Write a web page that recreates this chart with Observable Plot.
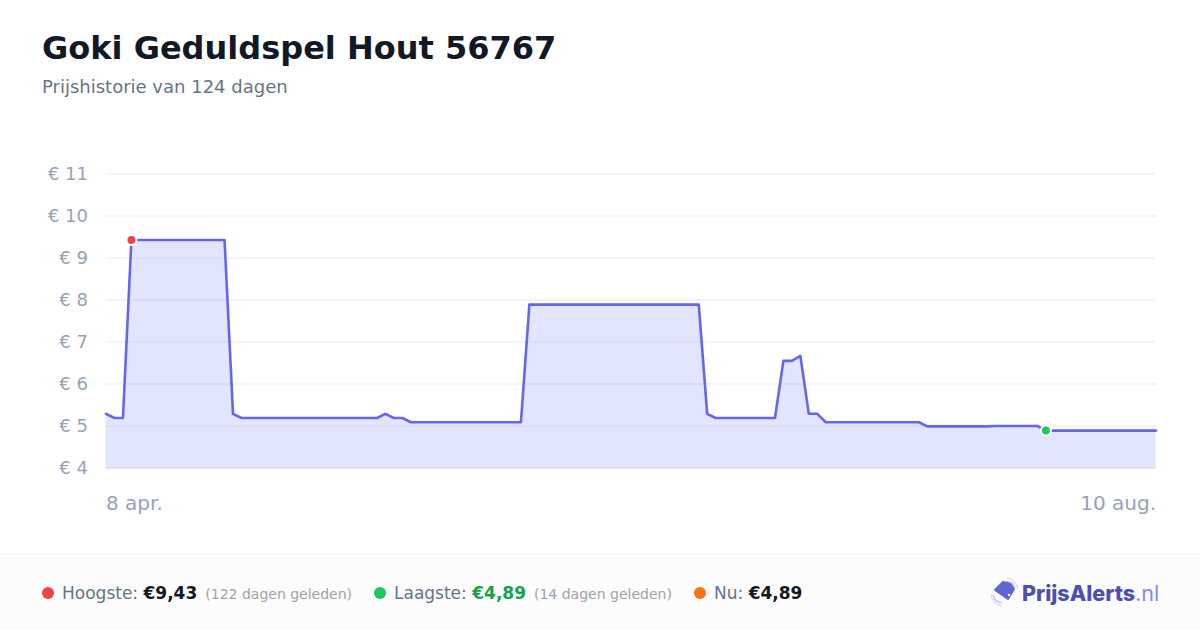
<!DOCTYPE html>
<html><head><meta charset="utf-8">
<script src="https://cdn.jsdelivr.net/npm/d3@7"></script>
<script src="https://cdn.jsdelivr.net/npm/@observablehq/plot@0.6"></script>
<style>
html,body{margin:0;padding:0;background:#fff;width:1200px;height:630px;overflow:hidden;font-family:"DejaVu Sans",sans-serif}
#page{position:relative;width:1200px;height:630px}
#title{position:absolute;left:42px;top:28px;font-size:32px;font-weight:700;color:#111827;line-height:40px;white-space:nowrap}
#sub{position:absolute;left:42px;top:75px;font-size:18px;color:#64748b;line-height:24px;white-space:nowrap}
#chart{position:absolute;left:0;top:130px}
#chart svg{display:block}
#foot{position:absolute;left:0;top:554px;width:1200px;height:76px;box-sizing:border-box;background:#fcfcfc;border-top:1px solid #f3f4f6}
.dot{position:absolute;top:32px;width:12px;height:12px;border-radius:50%}
.it{position:absolute;top:26px;line-height:24px;font-size:17px;color:#64748b;white-space:nowrap}
.it b{color:#111827;font-weight:700;font-size:17px}
.it small{color:#9ca3af;font-size:14px;margin-left:2.6px}
#logo{position:absolute;left:988px;top:22px}
#brand{position:absolute;left:1022px;top:24px;line-height:28px;font-family:Inter,sans-serif;font-size:21.5px;font-weight:800;color:#4a4fb5;white-space:nowrap}
#brand span{color:#818cf8;font-weight:400}
</style></head><body>
<div id="page">
<div id="title"></div><div id="sub"></div>
<div id="chart"></div>
<div id="foot">
<div class="dot" style="left:42px;background:#ef4444"></div>
<div class="it" style="left:62px">Hoogste: <b>€9,43</b> <small>(122 dagen geleden)</small></div>
<div class="dot" style="left:374px;background:#22c55e"></div>
<div class="it" style="left:394px">Laagste: <b style="color:#16a34a">€4,89</b> <small>(14 dagen geleden)</small></div>
<div class="dot" style="left:694px;background:#f97316"></div>
<div class="it" style="left:714px">Nu: <b>€4,89</b></div>
<svg id="logo" width="34" height="34" viewBox="0 0 34 34" fill="none">
<path d="M15 5 L7 13 L20 22 L26 12 L24 7 Z" fill="#5f66d8" stroke="#5f66d8" stroke-width="2" stroke-linejoin="round"/>
<circle cx="21" cy="18" r="1.2" fill="#fff"/>
<path d="M18 4 A11 11 0 0 1 27 12" stroke="#b4bdf6" stroke-width="1.2"/>
<path d="M19 1 A14 14 0 0 1 30 12" stroke="#cdd4fa" stroke-width="1.2"/>
<path d="M5 18 A11 11 0 0 0 14 26" stroke="#b4bdf6" stroke-width="1.2"/>
<path d="M3 18 A14 14 0 0 0 14 29" stroke="#cdd4fa" stroke-width="1.2"/>
</svg>
<div id="brand">PrijsAlerts<span>.nl</span></div>
</div>
</div>
<script>
const titleText = "Goki Geduldspel Hout 56767";
const subtitleText = "Prijshistorie van 124 dagen";
const startDate = new Date(Date.UTC(2025, 3, 8));
const prices = [
5.29,5.19,5.19,9.43,9.43,9.43,9.43,9.43,9.43,9.43,9.43,9.43,9.43,9.43,9.43,
5.29,5.19,5.19,5.19,5.19,5.19,5.19,5.19,5.19,5.19,5.19,5.19,5.19,5.19,5.19,5.19,5.19,5.19,
5.29,5.19,5.19,
5.09,5.09,5.09,5.09,5.09,5.09,5.09,5.09,5.09,5.09,5.09,5.09,5.09,5.09,
7.89,7.89,7.89,7.89,7.89,7.89,7.89,7.89,7.89,7.89,7.89,7.89,7.89,7.89,7.89,7.89,7.89,7.89,7.89,7.89,7.89,
5.29,5.19,5.19,5.19,5.19,5.19,5.19,5.19,5.19,
6.55,6.55,6.67,5.29,5.29,
5.09,5.09,5.09,5.09,5.09,5.09,5.09,5.09,5.09,5.09,5.09,5.09,
4.99,4.99,4.99,4.99,4.99,4.99,4.99,4.99,
5.00,5.00,5.00,5.00,5.00,5.00,
4.89,4.89,4.89,4.89,4.89,4.89,4.89,4.89,4.89,4.89,4.89,4.89,4.89,4.89
];
const yTicks = [5,6,7,8,9,10,11];
const yLabels = [4,5,6,7,8,9,10,11];
const baseValue = 4;
const highIndex = 3, lowIndex = 111;
const startLabel = "8 apr.", endLabel = "10 aug.";

document.getElementById("title").textContent = titleText;
document.getElementById("sub").textContent = subtitleText;
const data = prices.map((p,i)=>({date:d3.utcDay.offset(startDate,i),price:p}));
const first = data[0].date, last = data[data.length-1].date;
const font = '"DejaVu Sans", sans-serif';

const chart = Plot.plot({
  width:1200,height:424,
  marginLeft:105.5,marginRight:44.5,marginTop:43.5,marginBottom:86.5,
  style:{background:"transparent",fontFamily:font,overflow:"visible"},
  x:{type:"utc",domain:[first,last],axis:null},
  y:{domain:[4,11],axis:null},
  marks:[
    Plot.ruleY(yTicks,{stroke:"#f3f4f6",strokeWidth:2}),
    Plot.ruleY([baseValue],{stroke:"#e5e7eb",strokeWidth:2}),
    Plot.areaY(data,{x:"date",y1:baseValue,y2:"price",fill:"#6478f5",fillOpacity:0.19,curve:"linear"}),
    Plot.lineY(data,{x:"date",y:"price",stroke:"#6366f1",strokeWidth:2.6,curve:"linear"}),
    Plot.dot([data[highIndex]],{x:"date",y:"price",r:5,fill:"#ef4444",stroke:"#fff",strokeWidth:2}),
    Plot.dot([data[lowIndex]],{x:"date",y:"price",r:5,fill:"#22c55e",stroke:"#fff",strokeWidth:2}),
    Plot.axisY({ticks:yLabels,tickSize:0,tickPadding:18,tickFormat:d=>"€ "+d,fontSize:18,color:"#94a3b8",label:null,marginLeft:106}),
    Plot.axisX({ticks:[first],tickSize:0,tickPadding:28,tickFormat:()=>startLabel,textAnchor:"start",fontSize:20,color:"#94a3b8",label:null}),
    Plot.axisX({ticks:[last],tickSize:0,tickPadding:28,tickFormat:()=>endLabel,textAnchor:"end",fontSize:20,color:"#94a3b8",label:null})
  ]
});
document.getElementById("chart").appendChild(chart);
</script>
</body></html>
